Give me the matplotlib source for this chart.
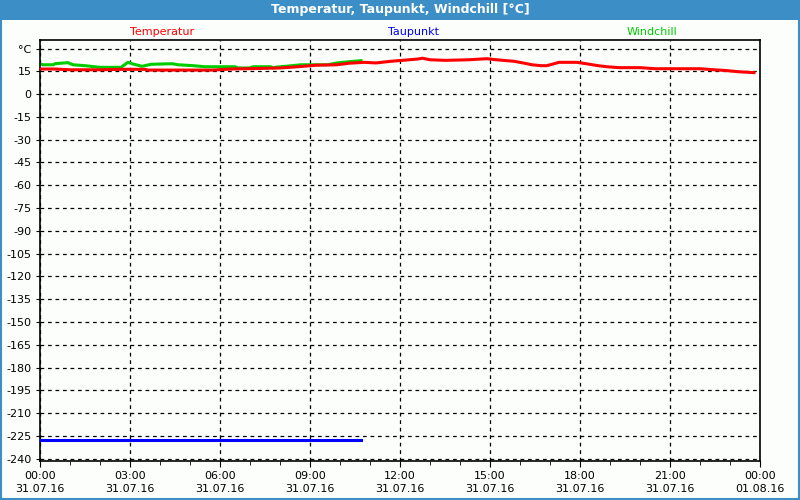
import matplotlib
matplotlib.use("Agg")
import matplotlib.pyplot as plt
from matplotlib.patches import Rectangle

# hours since 31.07.16 00:00
temp_hours = [0.0, 0.5, 1.0, 2.0, 2.7, 3.5, 3.6, 5.8, 6.0, 6.5, 7.2, 8.0, 8.6, 9.2,
              9.9, 10.3, 10.8, 11.2, 11.7, 12.2, 12.6, 12.75, 13.0, 13.5, 14.3, 14.9,
              15.2, 15.8, 16.1, 16.4, 16.7, 16.9, 17.3, 17.9, 18.2, 18.6, 18.9, 19.3,
              20.0, 20.5, 22.0, 22.4, 22.8, 23.3, 23.8]
temperatur = [16.5, 16.5, 16.0, 16.0, 16.3, 16.3, 15.8, 15.8, 16.1, 16.6, 16.8, 17.2,
              18.0, 19.0, 19.3, 20.3, 20.9, 20.5, 21.6, 22.4, 23.1, 23.6, 22.6, 22.2,
              22.6, 23.3, 22.6, 21.6, 20.5, 19.3, 18.7, 18.7, 20.9, 20.9, 20.0, 18.7,
              18.0, 17.4, 17.4, 16.7, 16.7, 16.1, 15.6, 14.7, 14.1]

wind_hours = [0.0, 0.1, 0.45, 0.5, 0.93, 1.1, 1.5, 2.0, 2.7, 2.93, 3.1, 3.4, 3.7, 4.4,
              4.6, 5.1, 5.5, 6.5, 6.6, 7.0, 7.1, 7.7, 7.75, 7.9, 8.3, 8.7, 9.6, 9.9,
              10.3, 10.7]
windchill = [19.8, 19.3, 19.3, 20.0, 20.7, 19.3, 18.7, 17.6, 17.6, 20.9, 19.8, 18.3,
             19.6, 20.0, 19.3, 18.7, 18.0, 18.0, 17.2, 17.2, 18.0, 18.0, 17.2, 17.8,
             18.5, 19.3, 19.3, 20.5, 21.3, 22.0]

dew_hours = [0.0, 10.7]
taupunkt = [-228.0, -228.0]

x_ticks = [0, 3, 6, 9, 12, 15, 18, 21, 24]
x_labels = ["00:00\n31.07.16", "03:00\n31.07.16", "06:00\n31.07.16", "09:00\n31.07.16",
            "12:00\n31.07.16", "15:00\n31.07.16", "18:00\n31.07.16", "21:00\n31.07.16",
            "00:00\n01.08.16"]
y_ticks = list(range(30, -241, -15))
y_labels = ["°C"] + [str(v) for v in y_ticks[1:]]

BAR = "#3c8fc6"
BG = "#fcfefc"

fig = plt.figure(figsize=(8, 5), dpi=100, facecolor=BG)
fig.patches.append(Rectangle((0, 1 - 20 / 500), 1, 20 / 500, transform=fig.transFigure,
                             facecolor=BAR, edgecolor="none", zorder=0))
fig.patches.append(Rectangle((0.001, 0.002), 0.998, 0.996, transform=fig.transFigure,
                             facecolor="none", edgecolor=BAR, linewidth=1.5, zorder=1))
fig.text(0.5, 1 - 10 / 500, "Temperatur, Taupunkt, Windchill [°C]", color="white",
         fontsize=9, fontweight="bold", ha="center", va="center")

ax = fig.add_axes([40 / 800, 1 - 461 / 500, 720 / 800, 421 / 500])
ax.set_facecolor(BG)
ax.plot(temp_hours, temperatur, color="#ff0000", linewidth=2.2, zorder=3)
ax.plot(wind_hours, windchill, color="#00cc00", linewidth=2.2, zorder=2)
ax.plot(dew_hours, taupunkt, color="#0000ff", linewidth=2.2, zorder=3)

ax.set_xlim(0, 24)
ax.set_ylim(-241.5, 35.6)
ax.set_xticks(x_ticks)
ax.set_xticklabels(x_labels, fontsize=8, linespacing=1.45)
ax.set_xticks(range(0, 25), minor=True)
ax.set_yticks(y_ticks)
ax.set_yticklabels(y_labels, fontsize=8)
ax.tick_params(axis="x", which="major", length=4, direction="out", pad=3)
ax.tick_params(axis="x", which="minor", length=3, direction="out")
ax.tick_params(axis="y", length=3, direction="out", pad=3)
ax.grid(True, color="black", linestyle=(0, (3, 3)), linewidth=0.9)
for spine in ax.spines.values():
    spine.set_linewidth(1.2)

fig.text(162 / 800, 1 - 32 / 500, "Temperatur", color="#ff0000", fontsize=8,
         ha="center", va="center")
fig.text(413 / 800, 1 - 32 / 500, "Taupunkt", color="#0000ff", fontsize=8,
         ha="center", va="center")
fig.text(652 / 800, 1 - 32 / 500, "Windchill", color="#00cc00", fontsize=8,
         ha="center", va="center")

fig.savefig("out.png", dpi=100, facecolor=BG)
